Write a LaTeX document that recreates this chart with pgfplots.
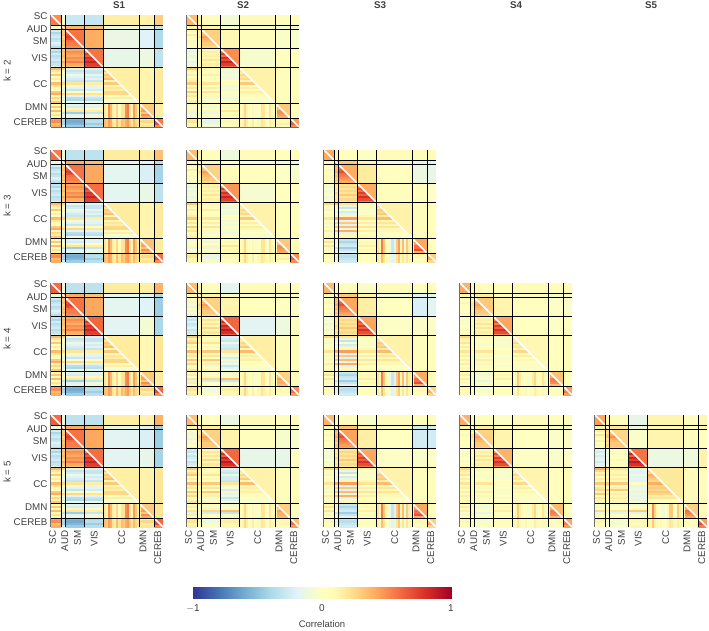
\documentclass[border=0pt]{standalone}
\usepackage{pgfplots}
\usepackage{pgfplotstable}
\usepackage{fontspec}
\setmainfont{Liberation Sans}
\pgfplotsset{compat=1.18}
\definecolor{txt}{HTML}{404040}
\definecolor{axl}{HTML}{6E6E6E}
\pgfplotsset{colormap={rdyb}{rgb255(0cm)=(49,54,149) rgb255(2cm)=(69,117,180) rgb255(4cm)=(116,173,209) rgb255(6cm)=(171,217,233) rgb255(8cm)=(224,243,248) rgb255(10cm)=(255,255,191) rgb255(10.8cm)=(255,252,186) rgb255(12cm)=(254,230,150) rgb255(14cm)=(253,174,97) rgb255(16cm)=(244,109,67) rgb255(18cm)=(215,48,39) rgb255(20cm)=(165,0,38)}}

% block means, upper triangle of the 7 networks; LOW = lower half of the diagonal block
\pgfplotstableread{
SC AUD SM VIS CC DMN CB LOW
0.50 -0.05 -0.28 -0.30 0.15 0.13 0.28 0.55
x 0.50 0.38 0.33 -0.12 -0.15 -0.30 0.55
x x 0.58 0.40 -0.13 -0.20 -0.38 0.62
x x x 0.58 -0.15 -0.12 -0.33 0.68
x x x x 0.15 0.12 0.18 0.25
x x x x x 0.30 0.15 0.35
x x x x x x 0.55 0.62
}\kbS
\pgfplotstableread{
SC AUD SM VIS CC DMN CB LOW
0.35 0.10 0.05 -0.08 0.07 0.05 0.05 0.38
x 0.30 0.10 -0.05 -0.05 -0.08 -0.08 0.35
x x 0.28 0.10 0.05 -0.03 -0.05 0.33
x x x 0.50 -0.05 0.00 0.03 0.60
x x x x 0.13 0.05 0.08 0.18
x x x x x 0.30 0.03 0.38
x x x x x x 0.45 0.50
}\kbT
\pgfplotstableread{
SC AUD SM VIS CC DMN CB LOW
0.55 -0.10 -0.33 -0.33 0.17 0.15 0.33 0.60
x 0.50 0.40 0.35 -0.15 -0.18 -0.35 0.55
x x 0.58 0.42 -0.17 -0.22 -0.42 0.62
x x x 0.60 -0.17 -0.14 -0.33 0.68
x x x x 0.17 0.12 0.18 0.25
x x x x x 0.33 0.17 0.38
x x x x x x 0.58 0.65
}\kcS
\pgfplotstableread{
SC AUD SM VIS CC DMN CB LOW
0.35 0.10 0.05 -0.10 0.07 0.03 0.03 0.38
x 0.30 0.10 0.03 -0.08 -0.10 -0.12 0.35
x x 0.27 0.08 0.03 -0.02 -0.05 0.32
x x x 0.47 -0.06 0.00 0.00 0.58
x x x x 0.13 0.03 0.05 0.18
x x x x x 0.30 0.07 0.38
x x x x x x 0.50 0.55
}\kcT
\pgfplotstableread{
SC AUD SM VIS CC DMN CB LOW
0.40 0.10 0.03 -0.02 0.07 0.05 0.08 0.42
x 0.40 0.30 0.12 -0.10 -0.15 -0.20 0.45
x x 0.40 0.17 0.02 -0.12 -0.15 0.45
x x x 0.40 0.04 0.00 -0.02 0.55
x x x x 0.13 0.05 0.03 0.20
x x x x x 0.42 0.03 0.48
x x x x x x 0.28 0.35
}\kcU
\pgfplotstableread{
SC AUD SM VIS CC DMN CB LOW
0.60 -0.10 -0.33 -0.33 0.17 0.15 0.37 0.65
x 0.50 0.40 0.33 -0.17 -0.20 -0.38 0.55
x x 0.58 0.42 -0.17 -0.20 -0.45 0.65
x x x 0.62 -0.18 -0.07 -0.40 0.70
x x x x 0.17 0.10 0.20 0.25
x x x x x 0.30 0.17 0.35
x x x x x x 0.62 0.68
}\kdS
\pgfplotstableread{
SC AUD SM VIS CC DMN CB LOW
0.35 0.08 0.05 -0.17 0.08 0.03 0.05 0.38
x 0.30 0.12 0.00 -0.05 -0.05 -0.05 0.35
x x 0.27 0.12 0.03 0.00 -0.03 0.32
x x x 0.62 -0.18 -0.10 0.07 0.70
x x x x 0.15 0.05 0.07 0.20
x x x x x 0.27 0.07 0.33
x x x x x x 0.50 0.55
}\kdT
\pgfplotstableread{
SC AUD SM VIS CC DMN CB LOW
0.35 0.05 0.05 -0.03 0.07 0.03 0.05 0.38
x 0.42 0.30 0.12 -0.10 -0.18 -0.17 0.48
x x 0.42 0.15 0.00 -0.22 -0.18 0.50
x x x 0.42 -0.02 -0.03 -0.03 0.55
x x x x 0.13 0.05 0.05 0.20
x x x x x 0.40 0.05 0.48
x x x x x x 0.27 0.33
}\kdU
\pgfplotstableread{
SC AUD SM VIS CC DMN CB LOW
0.38 0.08 0.05 0.03 0.08 0.04 0.08 0.42
x 0.25 0.15 0.05 -0.03 -0.05 -0.05 0.30
x x 0.30 0.12 0.02 -0.02 -0.03 0.35
x x x 0.42 0.00 -0.02 0.00 0.52
x x x x 0.10 0.03 0.05 0.17
x x x x x 0.33 0.03 0.40
x x x x x x 0.45 0.50
}\kdV
\pgfplotstableread{
SC AUD SM VIS CC DMN CB LOW
0.60 -0.12 -0.33 -0.33 0.15 0.13 0.38 0.65
x 0.50 0.42 0.38 -0.15 -0.20 -0.45 0.55
x x 0.58 0.42 -0.18 -0.22 -0.45 0.65
x x x 0.60 -0.18 -0.15 -0.42 0.68
x x x x 0.15 0.13 0.20 0.25
x x x x x 0.30 0.20 0.35
x x x x x x 0.62 0.68
}\keS
\pgfplotstableread{
SC AUD SM VIS CC DMN CB LOW
0.33 0.05 0.02 -0.12 0.07 0.05 0.07 0.36
x 0.30 0.15 0.02 -0.05 -0.05 -0.05 0.35
x x 0.27 0.13 0.03 -0.05 -0.05 0.32
x x x 0.62 -0.15 -0.15 0.02 0.70
x x x x 0.13 0.05 0.07 0.20
x x x x x 0.28 0.05 0.33
x x x x x x 0.33 0.38
}\keT
\pgfplotstableread{
SC AUD SM VIS CC DMN CB LOW
0.35 0.05 0.05 -0.03 0.07 0.03 0.07 0.38
x 0.45 0.33 0.12 -0.02 -0.25 -0.25 0.50
x x 0.43 0.15 0.00 -0.25 -0.25 0.50
x x x 0.42 -0.02 -0.04 -0.02 0.55
x x x x 0.13 0.05 0.05 0.20
x x x x x 0.42 0.05 0.50
x x x x x x 0.27 0.33
}\keU
\pgfplotstableread{
SC AUD SM VIS CC DMN CB LOW
0.37 0.08 0.05 -0.02 0.07 0.05 0.07 0.40
x 0.27 0.15 0.03 -0.02 -0.04 -0.04 0.32
x x 0.27 0.12 0.00 -0.03 -0.03 0.33
x x x 0.38 -0.02 -0.04 -0.02 0.50
x x x x 0.12 0.03 0.05 0.18
x x x x x 0.35 0.03 0.42
x x x x x x 0.42 0.48
}\keV
\pgfplotstableread{
SC AUD SM VIS CC DMN CB LOW
0.42 0.10 0.07 -0.15 0.12 0.02 0.10 0.45
x 0.27 0.18 -0.12 0.08 0.00 0.02 0.32
x x 0.25 -0.03 0.12 0.02 0.03 0.30
x x x 0.58 -0.12 -0.10 0.13 0.68
x x x x 0.18 0.07 0.05 0.22
x x x x x 0.28 0.05 0.35
x x x x x x 0.45 0.55
}\keW

% lower half, rows 7 to 52: one value per row and network, by subject
\pgfplotstableread{
SC AUD SM VIS CC DMN CB
-0.25 0.3 0.55 x x x x
-0.4 0.3 0.6 x x x x
-0.3 0.35 0.7 x x x x
-0.25 0.25 0.75 x x x x
-0.35 0.3 0.7 x x x x
-0.3 0.35 0.6 x x x x
-0.2 0.3 0.55 x x x x
-0.25 0.35 0.55 x x x x
-0.35 0.25 0.5 x x x x
-0.3 0.3 0.42 0.5 x x x
-0.4 0.35 0.5 0.55 x x x
-0.25 0.3 0.45 0.75 x x x
-0.35 0.35 0.4 0.65 x x x
-0.3 0.3 0.5 0.8 x x x
-0.25 0.25 0.45 0.75 x x x
-0.35 0.4 0.55 0.85 x x x
-0.3 0.3 0.4 0.75 x x x
-0.2 0.2 0.35 0.7 x x x
0.35 0.25 -0.15 -0.2 0.3 x x
0.2 -0.1 -0.3 -0.3 0.35 x x
0.1 0 -0.25 -0.3 0.2 x x
0.3 0.1 -0.1 -0.15 0.3 x x
0.05 -0.1 -0.2 -0.25 0.25 x x
0.15 -0.05 -0.25 -0.2 0.35 x x
0 -0.2 -0.3 -0.3 0.1 x x
0.35 0.25 0.2 0.15 0.3 x x
0.2 0 -0.05 -0.15 0.1 x x
0.1 -0.1 -0.2 -0.2 0.2 x x
0.05 -0.2 -0.3 -0.25 0.15 x x
0.3 0.1 0.05 0.05 0.25 x x
0.4 0.25 0.25 0.2 0.25 x x
0.1 -0.1 -0.2 -0.2 0.05 x x
0.25 -0.15 -0.35 -0.3 0.15 x x
0.15 -0.2 -0.4 -0.35 -0.05 x x
0.3 0.05 -0.1 -0.1 -0.1 x x
0.1 -0.1 -0.2 -0.15 0.2 0.3 x
0.3 -0.1 -0.25 -0.2 0.3 0.35 x
0.05 0.05 0.1 0.05 0.1 0.4 x
0.35 0.1 0.2 0.15 0.3 0.45 x
0.05 -0.3 -0.45 -0.3 0.2 0.3 x
0.2 -0.15 -0.2 -0.1 0.3 0.5 x
0.1 -0.2 -0.15 -0.1 0.1 0.4 x
0.45 -0.3 -0.55 -0.4 0.3 0.15 0.6
0.5 -0.4 -0.6 -0.35 0.25 0.25 0.7
0.35 -0.4 -0.55 -0.45 0.2 0.15 0.7
0.4 -0.25 -0.45 -0.35 0.15 0.2 0.5
}\rowsA
\pgfplotstableread{
SC AUD SM VIS CC DMN CB
0.1 0.15 0.3 x x x x
0 0.1 0.3 x x x x
0.15 0.1 0.35 x x x x
0.05 0.2 0.45 x x x x
0 0.1 0.4 x x x x
0.1 0.1 0.35 x x x x
-0.05 0.05 0.3 x x x x
0.05 0.1 0.3 x x x x
0 0.05 0.25 x x x x
-0.1 0.05 0.1 0.45 x x x
-0.15 0 0.15 0.55 x x x
-0.05 0.05 0.1 0.75 x x x
-0.15 0 0.15 0.6 x x x
-0.1 0.05 0.1 0.8 x x x
-0.05 0.05 0.2 0.7 x x x
-0.15 0 0.1 0.85 x x x
-0.1 0.05 0.15 0.75 x x x
-0.05 0 0.1 0.6 x x x
0.3 0.15 0.1 -0.05 0.2 x x
0.1 0.05 0.05 -0.1 0.2 x x
0.05 0.1 0.05 -0.12 0.15 x x
0.15 0.1 0.15 -0.05 0.25 x x
0.05 0 0 -0.1 0.2 x x
0.1 0.05 0.05 -0.1 0.25 x x
0.15 0 0.05 0 0.1 x x
0.3 0.1 0.2 0.05 0.3 x x
0.05 0 0 -0.1 0.05 x x
0.2 0.05 0.15 -0.05 0.15 x x
0 -0.05 -0.05 -0.1 0.05 x x
0.3 0.1 0.2 0.05 0.15 x x
0.1 0 0.05 -0.05 0.1 x x
0.2 0.05 0.1 -0.05 0.05 x x
0 -0.05 -0.1 -0.1 0 x x
0.1 0 0.05 -0.05 -0.05 x x
0.15 0.05 0.05 0 -0.05 x x
-0.1 0 -0.05 0.05 0.05 0.35 x
0.05 0 -0.1 0.1 0.1 0.4 x
-0.05 0.05 0 0.05 0.1 0.35 x
0.1 0.05 0.1 0.2 0.15 0.5 x
-0.15 -0.1 -0.15 0.05 0.1 0.5 x
0.05 0 0.05 0.1 0.1 0.45 x
-0.1 -0.05 -0.05 0.05 0.05 0.4 x
0.15 0.1 -0.1 0.05 0.1 0.1 0.5
0.2 0.05 -0.15 0.1 0.15 0.1 0.65
0.1 0.05 -0.1 0.05 0.1 0.15 0.65
0.1 0 -0.05 0.05 0.05 0.05 0.5
}\rowsB
\pgfplotstableread{
SC AUD SM VIS CC DMN CB
0.05 0.2 0.3 x x x x
-0.1 0.15 0.3 x x x x
0.1 0.2 0.35 x x x x
-0.05 0.25 0.45 x x x x
-0.15 0.2 0.4 x x x x
0.05 0.2 0.35 x x x x
-0.1 0.1 0.3 x x x x
0 0.15 0.3 x x x x
-0.15 0.1 0.25 x x x x
-0.25 0.05 0.1 0.5 x x x
-0.3 0 0.2 0.6 x x x
-0.2 0.05 0.1 0.8 x x x
-0.3 0 0.2 0.65 x x x
-0.25 0.05 0.1 0.85 x x x
-0.2 0.05 0.25 0.75 x x x
-0.3 0 0.1 0.9 x x x
-0.25 0.05 0.2 0.8 x x x
-0.15 0 0.1 0.65 x x x
0.3 0.2 0.1 -0.2 0.2 x x
0.1 0 0.05 -0.25 0.2 x x
0.2 0.1 0.1 -0.3 0.15 x x
0.3 0.15 0.2 -0.1 0.25 x x
0.05 0 0 -0.25 0.2 x x
0.15 0.05 0.1 -0.25 0.3 x x
0 0 0 -0.3 0.1 x x
0.35 0.2 0.3 0.2 0.35 x x
0.1 0.05 0.05 -0.1 0.1 x x
0.2 0.1 0.2 -0.05 0.15 x x
0.05 0 0 -0.25 0.1 x x
0.3 0.15 0.3 0.1 0.15 x x
0.1 0 0.1 -0.2 0.05 x x
0.25 0.1 0.15 -0.1 0.05 x x
0.05 -0.05 -0.1 -0.3 0 x x
0.1 0 0.05 -0.2 -0.05 x x
0.2 0.1 0.1 -0.05 -0.05 x x
-0.05 0 -0.05 -0.1 0.1 0.3 x
0.15 0.05 -0.05 -0.05 0.2 0.4 x
0 0.05 0.1 0.05 0.05 0.3 x
0.2 0.1 0.25 0.35 0.2 0.45 x
-0.2 -0.05 -0.25 -0.3 0.05 0.4 x
0.15 0.05 0 -0.05 0.1 0.4 x
0 -0.05 0 -0.05 0.05 0.35 x
0.2 0.15 -0.05 0.1 0.15 0.1 0.5
0.2 0.1 -0.1 0.15 0.2 0.1 0.6
0.1 0.05 -0.05 0.1 0.1 0.1 0.6
0.15 0.05 0 0.1 0.1 0.05 0.45
}\rowsC
\pgfplotstableread{
SC AUD SM VIS CC DMN CB
0.05 0.35 0.5 x x x x
0 0.3 0.55 x x x x
0.1 0.35 0.65 x x x x
0.05 0.4 0.7 x x x x
0 0.3 0.6 x x x x
0.1 0.35 0.55 x x x x
0 0.25 0.5 x x x x
0.05 0.3 0.45 x x x x
0 0.25 0.4 x x x x
-0.05 0.2 0.2 0.45 x x x
-0.1 0.15 0.25 0.5 x x x
0 0.2 0.2 0.7 x x x
-0.1 0.15 0.25 0.6 x x x
-0.05 0.25 0.2 0.75 x x x
0 0.2 0.3 0.65 x x x
-0.1 0.15 0.2 0.8 x x x
-0.05 0.2 0.25 0.7 x x x
0 0.15 0.15 0.55 x x x
0.25 0.3 0.2 0.1 0.25 x x
0.05 -0.1 -0.15 0 0.25 x x
-0.05 -0.2 -0.3 -0.05 0.2 x x
0.1 0.05 0 0.05 0.3 x x
0 -0.2 -0.25 -0.05 0.25 x x
0.05 -0.1 -0.15 0 0.3 x x
0.05 0.1 0.1 0.1 0.15 x x
0.2 0.4 0.45 0.2 0.35 x x
-0.05 -0.15 -0.2 0 0.1 x x
0.1 0.25 0.3 0.15 0.2 x x
-0.05 -0.15 -0.2 -0.05 0.1 x x
0.1 0.3 0.35 0.2 0.2 x x
0 -0.05 -0.1 0.05 0.1 x x
0.15 0.35 0.4 0.15 0.1 x x
-0.05 -0.15 -0.2 0 0 x x
0.05 0.05 0.1 0.05 0 x x
0.1 0.1 0.1 0.1 -0.05 x x
0.1 -0.1 -0.3 0.05 0.15 0.4 x
0.2 -0.2 -0.4 0.1 0.2 0.5 x
0 -0.1 -0.3 0.05 0.1 0.45 x
0.2 0 -0.25 0.15 0.2 0.6 x
-0.05 -0.3 -0.45 0 0.15 0.6 x
0.1 -0.15 -0.3 0.1 0.15 0.7 x
0 -0.1 -0.2 0.05 0.1 0.4 x
0.1 -0.1 -0.3 0.05 0.15 0.1 0.3
0.1 -0.2 -0.35 0.05 0.15 0.1 0.4
0 -0.15 -0.3 0.05 0.1 0.05 0.4
0.05 -0.1 -0.25 0 0.05 0.05 0.25
}\rowsD
\pgfplotstableread{
SC AUD SM VIS CC DMN CB
0.05 0.15 0.3 x x x x
0 0.1 0.3 x x x x
0.1 0.2 0.4 x x x x
0.05 0.2 0.45 x x x x
0 0.15 0.4 x x x x
0.05 0.15 0.35 x x x x
0 0.1 0.3 x x x x
0.05 0.15 0.3 x x x x
0 0.1 0.25 x x x x
0 0.05 0.1 0.45 x x x
-0.05 0 0.15 0.5 x x x
0.05 0.05 0.1 0.7 x x x
-0.05 0 0.2 0.55 x x x
0 0.1 0.1 0.75 x x x
0.05 0.05 0.2 0.65 x x x
-0.05 0 0.1 0.8 x x x
0 0.05 0.15 0.7 x x x
0.05 0 0.1 0.5 x x x
0.25 0.1 0.1 0 0.2 x x
0.15 0 -0.05 -0.05 0.2 x x
0.1 0 0 -0.05 0.15 x x
0.2 0.05 0.05 -0.03 0.25 x x
0.05 -0.05 -0.05 -0.05 0.15 x x
0.15 0 0 -0.05 0.2 x x
0.05 0.05 0.05 0 0.1 x x
0.2 0.1 0.2 0.05 0.25 x x
0.05 0 0 -0.05 0.05 x x
0.15 0.05 0.1 0 0.15 x x
0 -0.05 -0.05 -0.05 0.05 x x
0.15 0.05 0.15 0.05 0.1 x x
0 0 0.03 -0.03 0.05 x x
0.15 0.05 0.1 0 0.05 x x
0 -0.05 -0.05 -0.05 -0.03 x x
0.1 0 0.05 0 -0.03 x x
0.05 0 0.05 0 -0.03 x x
0.05 -0.05 -0.05 0.05 0.1 0.35 x
0.15 -0.05 -0.1 0.1 0.15 0.45 x
0 -0.03 -0.05 0.05 0.1 0.4 x
0.15 0.05 0.05 0.15 0.15 0.55 x
-0.03 -0.1 -0.15 0 0.1 0.55 x
0.1 -0.05 -0.03 0.05 0.1 0.5 x
0 0 -0.03 0.05 0.05 0.35 x
0.1 0.05 -0.05 0.05 0.1 0.05 0.4
0.1 0 -0.05 0.05 0.1 0.05 0.5
0.05 0 -0.05 0.05 0.05 0.05 0.55
0.05 0.05 0 0.03 0.03 0.03 0.45
}\rowsE
\pgfplotstableread{
SC AUD SM VIS CC DMN CB
0.15 0.25 0.3 x x x x
0 0.2 0.3 x x x x
0.2 0.3 0.4 x x x x
0.1 0.3 0.5 x x x x
0 0.2 0.4 x x x x
0.15 0.25 0.35 x x x x
0.05 0.2 0.3 x x x x
0.1 0.25 0.3 x x x x
0.05 0.15 0.25 x x x x
-0.2 -0.1 0 0.45 x x x
-0.25 -0.15 0.05 0.6 x x x
-0.15 -0.1 -0.05 0.85 x x x
-0.25 -0.15 0.05 0.65 x x x
-0.2 -0.05 0 0.85 x x x
-0.15 -0.1 0.1 0.75 x x x
-0.25 -0.15 0 0.9 x x x
-0.2 -0.1 0.05 0.8 x x x
-0.1 -0.05 0 0.65 x x x
0.4 0.3 0.2 -0.05 0.3 x x
0.25 0.1 0.1 -0.2 0.3 x x
0.1 0.1 0.1 -0.2 0.25 x x
0.2 0.15 0.15 -0.1 0.4 x x
0.05 0.05 0.05 -0.2 0.35 x x
0.15 0.15 0.15 -0.15 0.3 x x
0.1 0.05 0.1 -0.2 0.25 x x
0.3 0.3 0.3 0 0.4 x x
0.1 0.1 0.05 -0.15 0.25 x x
0.2 0.1 0.15 -0.1 0.3 x x
0.25 0.3 0.3 -0.1 0.25 x x
0.1 0.05 0.05 -0.15 0.3 x x
0.3 0.2 0.15 -0.1 0.25 x x
0.05 0.1 0.1 -0.15 0.15 x x
0.2 0.1 0.15 -0.1 0.2 x x
0.1 0.05 0.1 -0.15 0.05 x x
0.1 0.05 0.1 -0.05 0 x x
-0.1 -0.1 -0.1 -0.1 0.1 0.35 x
0.1 0 0 0 0.15 0.45 x
-0.05 -0.05 0 0.05 0.05 0.4 x
0.25 0.2 0.2 0.3 0.2 0.6 x
-0.15 -0.15 -0.2 -0.2 0.05 0.55 x
0.1 0.1 0.05 0.05 0.15 0.5 x
0 0 0.05 0 0.1 0.4 x
0.15 0.1 0.1 0.15 0.1 0.05 0.5
0.1 -0.05 -0.05 0.1 0.15 0.05 0.65
0 -0.1 -0.1 0.05 0.1 0.05 0.7
0 0 0 0.1 0.05 0 0.55
}\rowsF

% CC columns 25 to 41 against the DMN and CEREB rows, by subject
\pgfplotstableread{
d c
0.2 0.35
0.1 0.3
0.5 0.45
0.35 0.4
0.15 0.2
0.1 0.15
0.25 0.35
0.05 0.2
0.2 0.35
0.2 0.3
0.5 0.4
0.55 0.45
0.2 0.3
0.1 0.2
0.45 0.35
0.3 0.25
0.15 0.2
}\colsA
\pgfplotstableread{
d c
0.05 0.1
0.1 0.1
0.25 0.25
0.1 0.15
0.05 0.05
0 0.05
0.1 0.15
-0.05 0
0.05 0.1
0.05 0.1
0.2 0.2
0.2 0.15
0.05 0.1
-0.05 0.05
0.2 0.15
0.1 0.1
0.05 0.05
}\colsB
\pgfplotstableread{
d c
0.2 0.15
0.1 0.05
0.55 0.35
0.3 0.2
0.1 0.05
0.05 0
-0.1 -0.1
-0.3 -0.2
-0.2 -0.15
0.3 0.2
0.45 0.3
0.1 0.05
0.35 0.2
-0.1 -0.05
0.3 0.2
0.15 0.1
0.1 0.05
}\colsC
\pgfplotstableread{
d c
0.05 0.1
0.1 0.05
0.3 0.2
0.15 0.1
0.05 0.05
0 0.05
0.05 0.1
-0.05 0
0.05 0.05
0.15 0.05
0.25 0.15
0.1 0.1
0.05 0.05
0.05 0.05
0.2 0.1
0.1 0.05
0.05 0.05
}\colsD
\pgfplotstableread{
d c
0.1 0.15
0.1 0.1
0.5 0.3
0.25 0.15
0.1 0.1
0 0.05
0.05 0.1
-0.1 0.05
0 0.05
0.1 0.1
0.3 0.2
0.3 0.15
0.05 0.1
0 0.05
0.3 0.15
0.15 0.1
0.05 0.05
}\colsE

\newcommand\addrect[5]{\xdef\pts{\pts (#1,#3)[#5] (#2,#3)[#5] (#2,#4)[#5] (#1,#4)[#5] }}
\newcommand\addover[5]{\xdef\over{\over (#1,#3)[#5] (#2,#3)[#5] (#2,#4)[#5] (#1,#4)[#5] }}
\newcommand\addtri[5]{\xdef\tris{\tris (#1,#3)[#5] (#1,#4)[#5] (#2,#4)[#5] }}
\newcommand\buildcells[3]{%
  \gdef\pts{}\gdef\tris{}\gdef\over{}%
  \foreach \i/\ya/\yb in {0/53/48,1/48/46,2/46/37,3/37/28,4/28/11,5/11/4,6/4/0}{%
    \foreach \j/\xa/\xb/\cn in {0/0/5/SC,1/5/7/AUD,2/7/16/SM,3/16/25/VIS,4/25/42/CC,5/42/49/DMN,6/49/53/CB}{%
      \ifnum\j<\i\else
        \pgfplotstablegetelem{\i}{\cn}\of#1%
        \let\v\pgfplotsretval
        \addrect{\xa}{\xb}{\ya}{\yb}{\v}%
        \ifnum\j>\i
          \addrect{\the\numexpr53-\ya}{\the\numexpr53-\yb}{\the\numexpr53-\xa}{\the\numexpr53-\xb}{\v}%
        \else
          \pgfplotstablegetelem{\i}{LOW}\of#1%
          \let\v\pgfplotsretval
          \addtri{\xa}{\xb}{\ya}{\yb}{\v}%
        \fi
      \fi
    }%
  }%
  \foreach \r in {7,...,52}{%
    \edef\tr{\the\numexpr\r-7}\edef\yh{\the\numexpr53-\r}\edef\yl{\the\numexpr52-\r}%
    \foreach \xa/\xb/\cn in {0/5/SC,5/7/AUD,7/16/SM,16/25/VIS,25/42/CC,42/49/DMN,49/53/CB}{%
      \ifnum\xb>\r\relax
        \ifnum\xa<\r\relax
          \pgfplotstablegetelem{\tr}{\cn}\of#2%
          \addover{\xa}{\r}{\yh}{\yl}{\pgfplotsretval}%
        \fi
      \else
        \pgfplotstablegetelem{\tr}{\cn}\of#2%
        \addover{\xa}{\xb}{\yh}{\yl}{\pgfplotsretval}%
      \fi
    }%
  }%
  \foreach \q in {0,...,16}{%
    \edef\xa{\the\numexpr25+\q}\edef\xb{\the\numexpr26+\q}%
    \pgfplotstablegetelem{\q}{d}\of#3%
    \addover{\xa}{\xb}{11}{4}{\pgfplotsretval}%
    \pgfplotstablegetelem{\q}{c}\of#3%
    \addover{\xa}{\xb}{4}{0}{\pgfplotsretval}%
  }%
}
\newcommand\plotrects[1]{\addplot[patch,patch type=rectangle,shader=flat,point meta=explicit] coordinates {#1};}
\newcommand\plottris[1]{\addplot[patch,shader=flat,point meta=explicit] coordinates {#1};}

\pgfplotsset{
  panel/.style={
    scale only axis, width=112pt, height=112pt,
    xmin=0, xmax=53, ymin=0, ymax=53,
    axis x line*=bottom, axis y line*=left,
    axis line style={axl,line width=1.1pt,-},
    tick align=inside, major tick length=2pt,
    tick style={txt,line width=0.5pt},
    xtick={0.7,6.5,12.5,20.5,33.5,43.5,50.5},
    ytick={2.3,9.5,20.5,32.5,40.5,46.5,52.3},
    xticklabels={}, yticklabels={},
    colormap name=rdyb, point meta min=-1, point meta max=1,
    tick label style={font=\fontsize{9.8}{10}\selectfont,text=txt},
  },
  ylab/.style={yticklabels={CEREB,DMN,CC,VIS,SM,AUD,SC}},
  xlab/.style={xticklabels={SC,AUD,SM,VIS,CC,DMN,CEREB},xticklabel style={rotate=90,anchor=east}},
}
\newcommand\panel[6]{% left px, top px, block table, row table, column table, styles
  \buildcells{#3}{#4}{#5}%
  \begin{axis}[panel,at={(#1pt,{630pt-#2pt-112pt})},anchor=south west,#6]
    \expandafter\plotrects\expandafter{\pts}
    \expandafter\plottris\expandafter{\tris}
    \expandafter\plotrects\expandafter{\over}
    \addplot[white,line width=1.5pt] coordinates {(0,53) (53,0)};
    \addplot[black,line width=1pt,unbounded coords=jump] coordinates {
      (5,0) (5,53) (5,nan) (7,0) (7,53) (7,nan) (16,0) (16,53) (16,nan)
      (25,0) (25,53) (25,nan) (42,0) (42,53) (42,nan) (49,0) (49,53) (49,nan)
      (0,48) (53,48) (nan,48) (0,46) (53,46) (nan,46) (0,37) (53,37) (nan,37)
      (0,28) (53,28) (nan,28) (0,11) (53,11) (nan,11) (0,4) (53,4)};
  \end{axis}%
}

\begin{document}
\begin{tikzpicture}[x=1pt,y=1pt,font=\fontsize{9.8}{10}\selectfont]
\path[use as bounding box] (0,0) rectangle (709,630);
\foreach \t/\x in {S1/119,S2/243,S3/380,S4/516,S5/651}
  \node[font=\fontsize{9.8}{10}\selectfont\bfseries,text=txt] at (\x,625) {\t};
\foreach \t/\y in {2/71,3/206,4/339,5/472}
  \node[rotate=90,text=txt] at (7,630-\y) {k = \t};

\panel{51}{15}{\kbS}{\rowsA}{\colsA}{ylab}
\panel{187}{15}{\kbT}{\rowsB}{\colsB}{}
\panel{51}{150}{\kcS}{\rowsA}{\colsA}{ylab}
\panel{187}{150}{\kcT}{\rowsB}{\colsB}{}
\panel{324}{150}{\kcU}{\rowsD}{\colsC}{}
\panel{51}{283}{\kdS}{\rowsA}{\colsA}{ylab}
\panel{187}{283}{\kdT}{\rowsC}{\colsB}{}
\panel{324}{283}{\kdU}{\rowsD}{\colsC}{}
\panel{460}{283}{\kdV}{\rowsE}{\colsD}{}
\panel{51}{415}{\keS}{\rowsA}{\colsA}{ylab,xlab}
\panel{187}{415}{\keT}{\rowsC}{\colsB}{xlab}
\panel{324}{415}{\keU}{\rowsD}{\colsC}{xlab}
\panel{460}{415}{\keV}{\rowsE}{\colsD}{xlab}
\panel{595}{415}{\keW}{\rowsF}{\colsE}{xlab}

\begin{axis}[scale only axis,width=258pt,height=11pt,at={(193pt,32pt)},anchor=south west,
  xmin=-1,xmax=1,ymin=0,ymax=1,ytick=\empty,xtick={-1,0,1},
  colormap name=rdyb,point meta min=-1,point meta max=1,
  axis line style={axl,line width=0.8pt},tick align=inside,major tick length=2pt,
  x tick style={txt},
  tick label style={font=\fontsize{10}{10}\selectfont,text=txt,yshift=-3pt},
  xticklabels={$-$1,0,1},
  xlabel={Correlation},xlabel style={font=\fontsize{9.5}{10}\selectfont,text=txt,yshift=-1pt}]
  \addplot[surf,shader=interp,mesh/rows=2,point meta=x] coordinates {
    (-1,0) (-0.8,0) (-0.6,0) (-0.4,0) (-0.2,0) (0,0) (0.2,0) (0.4,0) (0.6,0) (0.8,0) (1,0)
    (-1,1) (-0.8,1) (-0.6,1) (-0.4,1) (-0.2,1) (0,1) (0.2,1) (0.4,1) (0.6,1) (0.8,1) (1,1)};
\end{axis}
\end{tikzpicture}
\end{document}
